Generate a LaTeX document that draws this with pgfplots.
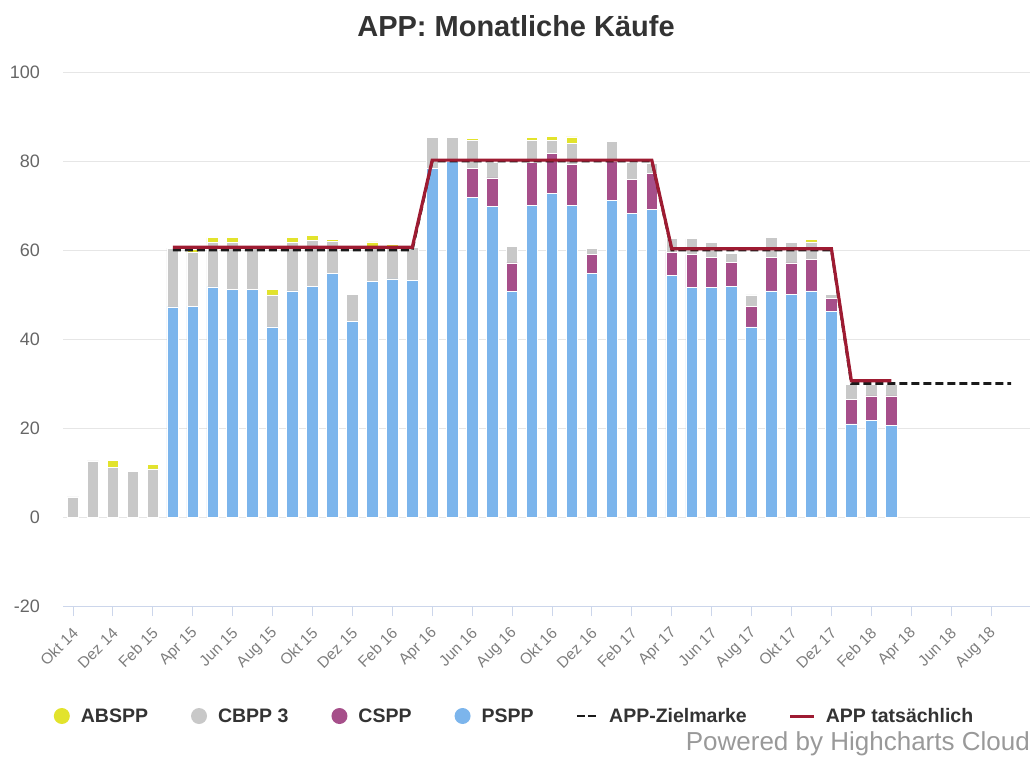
\documentclass[border=0pt]{standalone}
\usepackage{pgfplots}
\pgfplotsset{compat=1.18}
\usepackage{pgfplotstable}
\usepackage{fontspec}
\setmainfont{Liberation Sans}
\definecolor{cyel}{HTML}{E2E32C}
\definecolor{cgray}{HTML}{C8C8C8}
\definecolor{cpurp}{HTML}{A64F8A}
\definecolor{cblue}{HTML}{7CB5EC}
\definecolor{cred}{HTML}{9E1B32}
\definecolor{cdash}{HTML}{1A1A1A}
\definecolor{ctxt}{HTML}{333333}
\definecolor{clab}{HTML}{666666}
\definecolor{cgrid}{HTML}{E6E6E6}
\definecolor{caxis}{HTML}{CCD6EB}

\pgfplotstableread{
x P C B A
0 0 0 4.5 0
1 0 0 12.6 0
2 0 0 11.2 1.6
3 0 0 10.3 0
4 0 0 10.8 1.0
5 47.2 0 13.2 0
6 47.4 0 12.0 0.7
7 51.7 0 9.9 1.2
8 51.2 0 10.4 1.2
9 51.2 0 9.3 0
10 42.7 0 7.2 1.2
11 50.8 0 10.9 1.1
12 51.9 0 10.3 1.1
13 54.8 0 7.2 0.3
14 44.0 0 6.1 0
15 53.0 0 7.8 1.0
16 53.5 0 7.3 0.5
17 53.1 0 7.4 0
18 78.4 0 6.8 0
19 79.8 0 5.4 0
20 71.9 6.5 6.3 0.4
21 69.7 6.5 3.4 0
22 50.6 6.5 3.6 0
23 70.1 9.5 5.1 0.5
24 72.8 8.8 3.1 0.8
25 70.1 9.2 4.7 1.4
26 54.8 4.1 1.5 0
27 71.2 8.8 4.3 0
28 68.3 7.6 3.7 0
29 69.2 8.1 2.2 0
30 54.2 5.3 3.0 0
31 51.5 7.4 3.6 0
32 51.5 6.9 3.2 0
33 51.9 5.4 2.0 0
34 42.7 4.7 2.5 0
35 50.8 7.6 4.5 0
36 50.1 7.0 4.5 0
37 50.8 7.0 4.0 0.5
38 46.1 3.1 0.9 0
39 20.9 5.6 3.2 0
40 21.6 5.6 2.5 0
41 20.5 6.7 2.5 0
}\bars

\pgfplotstableread{
x y
5 60
17 60
18 80
29 80
30 60
38 60
39 30
47 30
}\ziel

\pgfplotstableread{
x y
5 60.6
17 60.6
18 80.2
29 80.2
30 60.3
38 60.3
39 30.6
41 30.6
}\tats

\pgfplotsset{
  base/.style={
    scale only axis, width=967pt, height=534pt,
    at={(63pt,150pt)}, anchor=south west,
    xmin=-0.5, xmax=47.95, ymin=-20, ymax=100,
  }
}

\begin{document}
\begin{tikzpicture}[x=1pt,y=1pt]
\useasboundingbox (0,0) rectangle (1032,756);
\begin{axis}[base,
  ybar stacked, bar width=0.58,
  axis x line*=bottom, axis y line*=left,
  y axis line style={draw=none},
  x axis line style={draw=caxis, line width=1pt, -},
  ytick={-20,0,...,100},
  ymajorgrids, grid style={draw=cgrid, line width=0.9pt},
  ytick style={draw=none},
  yticklabel style={font=\fontsize{18}{21}\selectfont, text=clab, inner sep=0pt, anchor=east, xshift=-13pt},
  xtick={0,2,...,46},
  xticklabels={Okt 14,Dez 14,Feb 15,Apr 15,Jun 15,Aug 15,Okt 15,Dez 15,Feb 16,Apr 16,Jun 16,Aug 16,Okt 16,Dez 16,Feb 17,Apr 17,Jun 17,Aug 17,Okt 17,Dez 17,Feb 18,Apr 18,Jun 18,Aug 18},
  xtick pos=bottom, tick align=outside,
  major tick length=10pt,
  xtick style={draw=caxis, line width=0.9pt},
  xticklabel style={font=\fontsize{15.5}{18}\selectfont, text=clab!85, inner sep=0pt, rotate=45, anchor=east, yshift=-12pt, xshift=-8.6pt},
  /pgf/number format/assume math mode=true,
  title={APP: Monatliche Käufe},
  title style={font=\bfseries\fontsize{29}{34}\selectfont, text=ctxt, at={(rel axis cs:0.4685,1.075)}, anchor=center, inner sep=0pt},
  every axis plot/.append style={draw=white, line width=0.8pt},
]
\addplot[fill=cblue] table[x=x,y=P]{\bars};
\addplot[fill=cpurp] table[x=x,y=C]{\bars};
\addplot[fill=cgray] table[x=x,y=B]{\bars};
\addplot[fill=cyel] table[x=x,y=A]{\bars};
\end{axis}
\begin{axis}[base, hide axis,
  legend style={at={(axis description cs:0.4654,-0.206)}, anchor=center,
    draw=none, fill=none, inner sep=0pt, legend columns=-1,
    font=\bfseries\fontsize{19.5}{23}\selectfont, text=ctxt,
    nodes={inner sep=0pt},
    /tikz/every odd column/.append style={column sep=10pt},
    /tikz/every even column/.append style={column sep=42pt}},
]
\addlegendimage{legend image code/.code={\path[draw=none,fill=none] (0pt,-8pt) rectangle (18pt,8pt); \fill[cyel, draw=none] (9pt,0pt) circle (8pt);}}
\addlegendentry{ABSPP}
\addlegendimage{legend image code/.code={\path[draw=none,fill=none] (0pt,-8pt) rectangle (18pt,8pt); \fill[cgray, draw=none] (9pt,0pt) circle (8pt);}}
\addlegendentry{CBPP 3}
\addlegendimage{legend image code/.code={\path[draw=none,fill=none] (0pt,-8pt) rectangle (18pt,8pt); \fill[cpurp, draw=none] (9pt,0pt) circle (8pt);}}
\addlegendentry{CSPP}
\addlegendimage{legend image code/.code={\path[draw=none,fill=none] (0pt,-8pt) rectangle (18pt,8pt); \fill[cblue, draw=none] (9pt,0pt) circle (8pt);}}
\addlegendentry{PSPP}
\addlegendimage{legend image code/.code={\path[draw=none,fill=none] (0pt,-8pt) rectangle (18pt,8pt); \draw[cdash, line width=2.6pt, dash pattern=on 8pt off 3pt] (-1pt,0pt) -- (20pt,0pt);}}
\addlegendentry{APP-Zielmarke}
\addlegendimage{legend image code/.code={\path[draw=none,fill=none] (0pt,-8pt) rectangle (18pt,8pt); \draw[cred, line width=3pt] (-2pt,0pt) -- (22pt,0pt);}}
\addlegendentry{APP tatsächlich}
\addplot[cdash, line width=2.6pt, dash pattern=on 8pt off 4pt, forget plot] table[x=x,y=y]{\ziel};
\addplot[cred, line width=3.2pt, forget plot] table[x=x,y=y]{\tats};
\end{axis}
\node[anchor=base east, font=\fontsize{26}{30}\selectfont, text=gray!80, inner sep=0pt] at (1030,5.4) {Powered by Highcharts Cloud};
\end{tikzpicture}
\end{document}
